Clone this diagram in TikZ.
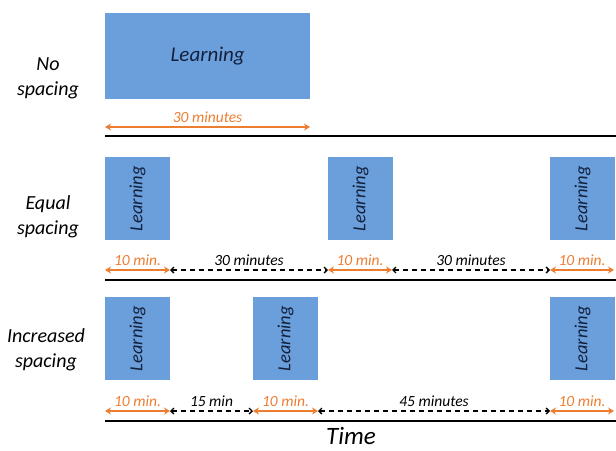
\documentclass[tikz,border=0pt]{standalone}
\usepackage{fontspec}
\setmainfont{Carlito}
\usetikzlibrary{arrows.meta}
\definecolor{boxblue}{HTML}{6A9FDB}
\definecolor{arrorange}{HTML}{ED7D31}
\definecolor{boxtext}{HTML}{14213D}
\tikzset{
  learnbox/.style={fill=boxblue, draw=none, inner sep=0pt, anchor=north west},
  learntext/.style={text=boxtext, font=\itshape\fontsize{18.5}{20}\selectfont},
  rowlabel/.style={font=\itshape\fontsize{20}{25}\selectfont, align=center},
  durlab/.style={font=\itshape\fontsize{15.5}{17}\selectfont},
  studyarrow/.style={draw=arrorange, line width=1.8pt, {Stealth[length=6pt,width=7pt]}-{Stealth[length=6pt,width=7pt]}},
  gaparrow/.style={draw=black, line width=1.3pt, dash pattern=on 5pt off 4pt, {Straight Barb[length=3pt,width=6pt]}-{Straight Barb[length=3pt,width=6pt]}},
  axisline/.style={draw=black, line width=2pt},
}
\begin{document}
\begin{tikzpicture}[x=1pt,y=-1pt]
\useasboundingbox (0,0) rectangle (616,450);
% Row 1
\node[rowlabel] (lab1) at (48,78) {No\\spacing};
\node[learnbox, minimum width=205pt, minimum height=86pt] (b1) at (105,13) {};
\node[learntext, font=\itshape\fontsize{21}{23}\selectfont] (b1t) at (b1.center) {Learning};
\coordinate (a1s) at (105,127);
\coordinate (a1e) at (310,127);
\draw[studyarrow] (a1s) -- node[above=0pt, durlab, text=arrorange] (t1) {30 minutes} (a1e);
\coordinate (l1s) at (105,136);
\coordinate (l1e) at (616,136);
\draw[axisline] (l1s) -- (l1e);
% Row 2
\node[rowlabel] (lab2) at (48,217) {Equal\\spacing};
\foreach \n/\x in {b2a/105,b2b/328,b2c/550}{
  \node[learnbox, minimum width=65pt, minimum height=83pt] (\n) at (\x,157) {};
  \node[learntext, rotate=90] at (\n.center) {Learning};
}
\coordinate (p20) at (105,270);
\coordinate (p21) at (170,270);
\coordinate (p22) at (328,270);
\coordinate (p23) at (392,270);
\coordinate (p24) at (550,270);
\coordinate (p25) at (614,270);
\draw[studyarrow] (p20) -- node[above=0pt, durlab, text=arrorange] {10 min.} (p21);
\draw[gaparrow] (p21) -- node[above=0pt, durlab] {30 minutes} (p22);
\draw[studyarrow] (p22) -- node[above=0pt, durlab, text=arrorange] {10 min.} (p23);
\draw[gaparrow] (p23) -- node[above=0pt, durlab] {30 minutes} (p24);
\draw[studyarrow] (p24) -- node[above=0pt, durlab, text=arrorange] {10 min.} (p25);
\coordinate (l2s) at (105,280);
\coordinate (l2e) at (616,280);
\draw[axisline] (l2s) -- (l2e);
% Row 3
\node[rowlabel] (lab3) at (46,350) {Increased\\spacing};
\foreach \n/\x in {b3a/105,b3b/253,b3c/550}{
  \node[learnbox, minimum width=65pt, minimum height=83pt] (\n) at (\x,297) {};
  \node[learntext, rotate=90] at (\n.center) {Learning};
}
\coordinate (p30) at (105,411);
\coordinate (p31) at (170,411);
\coordinate (p32) at (253,411);
\coordinate (p33) at (318,411);
\coordinate (p34) at (550,411);
\coordinate (p35) at (614,411);
\draw[studyarrow] (p30) -- node[above=0pt, durlab, text=arrorange] {10 min.} (p31);
\draw[gaparrow] (p31) -- node[above=0pt, durlab] {15 min} (p32);
\draw[studyarrow] (p32) -- node[above=0pt, durlab, text=arrorange] {10 min.} (p33);
\draw[gaparrow] (p33) -- node[above=0pt, durlab] {45 minutes} (p34);
\draw[studyarrow] (p34) -- node[above=0pt, durlab, text=arrorange] {10 min.} (p35);
\coordinate (l3s) at (105,421);
\coordinate (l3e) at (616,421);
\draw[axisline] (l3s) -- (l3e);
\node[font=\itshape\fontsize{25}{28}\selectfont, inner sep=1pt] (time) at (351,436) {Time};
\end{tikzpicture}
\end{document}
